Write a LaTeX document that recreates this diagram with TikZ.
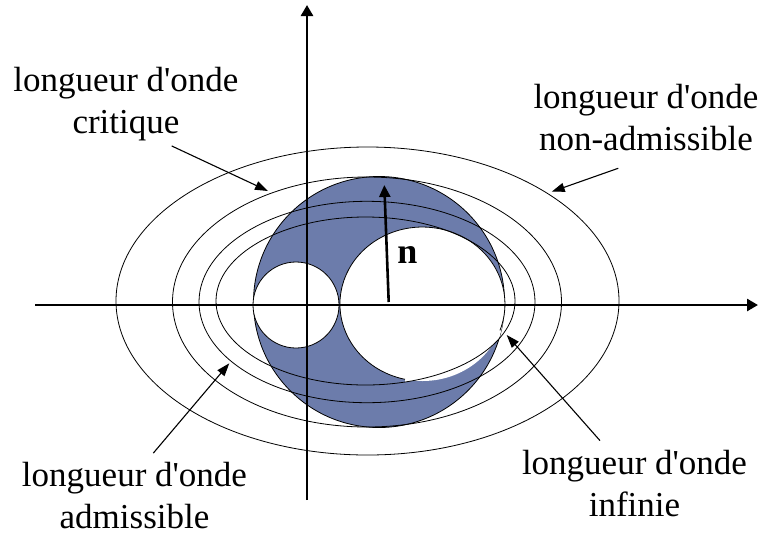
\documentclass[tikz,border=0pt]{standalone}
\usepackage{fontspec}
\setmainfont{Liberation Serif}
\usetikzlibrary{arrows.meta}
\definecolor{modeBlue}{HTML}{6C7CAB}
\tikzset{
  curve/.style   = {line width=0.8pt, draw=black},
  axis/.style    = {line width=2.6pt, -{Triangle[length=11pt,width=12pt]}},
  nvec/.style    = {line width=2.6pt, -{Triangle[length=12pt,width=11pt]}},
  callout/.style = {line width=1.1pt, -{Triangle[length=13pt,width=9pt]}},
  lbl/.style     = {font=\fontsize{35}{42}\selectfont, align=center,
                    inner sep=0pt, anchor=base},
}
\newcommand{\lo}{longueur d\textquotesingle onde}

\begin{document}
\begin{tikzpicture}[x=1pt,y=-1pt]
  \useasboundingbox (0,0) rectangle (759,536);

  % the disc with its two holes
  \fill[modeBlue, draw=black, line width=0.8pt] (379,302) circle[radius=125.5];
  \fill[white, draw=black, line width=0.8pt] (296,305) circle[radius=43];
  \fill[white] (422.5,304) ellipse[x radius=82.5, y radius=77];
  \begin{scope}
    \clip (379,302) circle[radius=125.5];
    \clip (405,305) rectangle (520,400);
    \fill[white] (365.5,301) ellipse[x radius=149.5, y radius=84];
  \end{scope}
  \draw[curve] (405,379.3) arc[start angle=102.2, end angle=380,
                               x radius=82.5, y radius=77];

  % wavelength curves
  \draw[curve] (367.5,301) ellipse[x radius=251.5, y radius=154];
  \draw[curve] (367,302) ellipse[x radius=194.5, y radius=125];
  \draw[curve] (367,302) ellipse[x radius=168, y radius=100.7];
  \draw[curve] (365.5,301) ellipse[x radius=149.5, y radius=84];

  % axes
  \coordinate (xaxisL) at (35,305);
  \coordinate (xaxisR) at (758,305);
  \coordinate (yaxisB) at (307,500);
  \coordinate (yaxisT) at (307,5);
  \draw[axis] (xaxisL) -- (xaxisR);
  \draw[axis] (yaxisB) -- (yaxisT);

  \coordinate (nFoot) at (388.7,302);
  \coordinate (nTip) at (384.3,185);
  \draw[nvec] (nFoot) -- (nTip);
  \node[font=\fontsize{36}{40}\selectfont\bfseries, anchor=base] (nlbl)
    at (407.5,263.3) {n};

  % labels
  \node[lbl] (crit) at (126,133.3) {\lo\\critique};
  \node[lbl] (nonadm) at (646,150) {\lo\\non-admissible};
  \node[lbl] (adm) at (134.5,528.3) {\lo\\admissible};
  \node[lbl] (inf) at (634.5,516.7) {\lo\\infinie};

  \coordinate (critTip) at (268,191);
  \coordinate (nonadmTip) at (551.7,191.7);
  \coordinate (admTip) at (229.3,363.3);
  \coordinate (infTip) at (506.7,335);
  \draw[callout] ([xshift=45.7pt, yshift=-5pt]crit.south) -- (critTip);
  \draw[callout] ([xshift=-27.7pt, yshift=-17.7pt]nonadm.south) -- (nonadmTip);
  \draw[callout] ([xshift=18.8pt, yshift=8.7pt]adm.north) -- (admTip);
  \draw[callout] ([xshift=-34.5pt, yshift=9.6pt]inf.north) -- (infTip);
\end{tikzpicture}
\end{document}
